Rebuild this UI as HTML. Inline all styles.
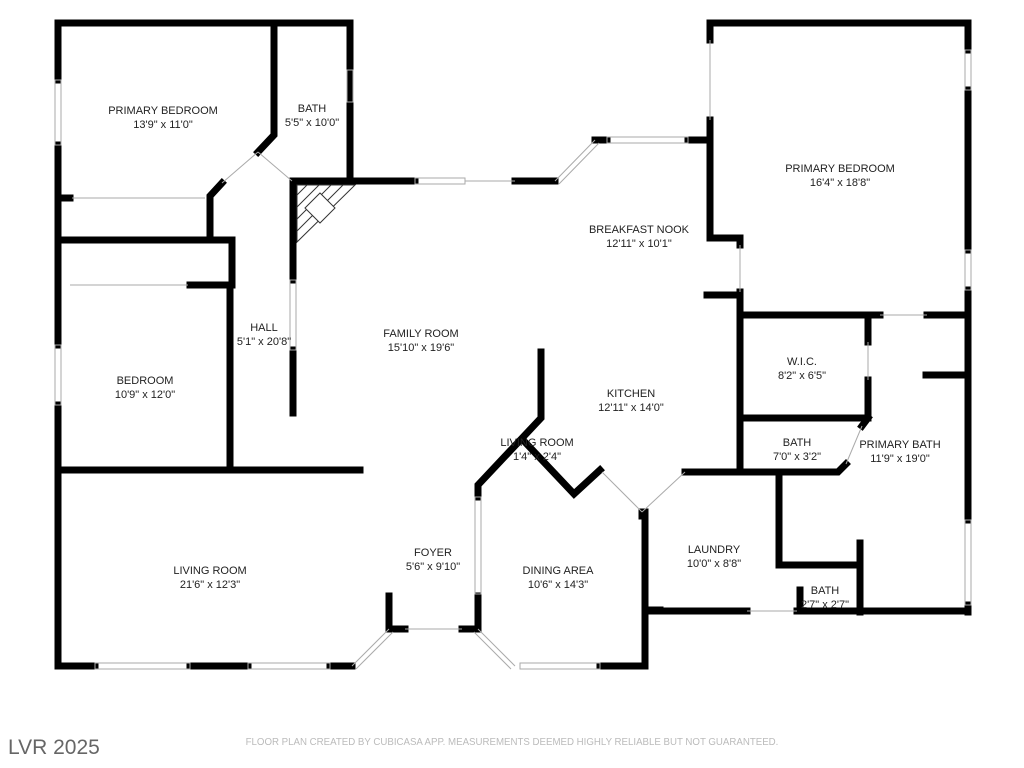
<!DOCTYPE html>
<html><head><meta charset="utf-8"><style>
body{margin:0;background:#fff;width:1024px;height:768px;overflow:hidden}
svg{display:block}
text{font-family:"Liberation Sans",sans-serif;fill:#222;font-size:11px;text-anchor:middle}
</style></head><body>
<svg width="1024" height="768" viewBox="0 0 1024 768">
<g stroke="#000" stroke-width="7" fill="none" stroke-linecap="square" stroke-linejoin="miter">
<line x1="58" y1="23" x2="350" y2="23"/><polyline points="350,23 350,181 370,181"/>
<line x1="58" y1="23" x2="58" y2="80"/><line x1="58" y1="145" x2="58" y2="345"/><line x1="58" y1="405" x2="58" y2="666"/>
<polyline points="274,23 274,135 258,152"/>
<line x1="58" y1="198" x2="70" y2="198"/>
<polyline points="222,183 210,196 210,240"/>
<polyline points="58,240 232,240 232,285 190,285"/>
<line x1="230" y1="285" x2="230" y2="470"/>
<line x1="58" y1="470" x2="360" y2="470"/>
<line x1="58" y1="666" x2="95" y2="666"/><line x1="190" y1="666" x2="248" y2="666"/><line x1="330" y1="666" x2="352" y2="666"/>
<line x1="389" y1="596" x2="389" y2="629"/><line x1="389" y1="629" x2="405" y2="629"/>
<line x1="462" y1="629" x2="478" y2="629"/><line x1="478" y1="596" x2="478" y2="629"/>
<line x1="600" y1="666" x2="645" y2="666"/><line x1="645" y1="512" x2="645" y2="666"/>
<line x1="645" y1="610" x2="660" y2="610"/>
<line x1="293" y1="181" x2="293" y2="280"/><line x1="293" y1="350" x2="293" y2="413"/>
<line x1="293" y1="181" x2="415" y2="181"/>
<line x1="515" y1="181" x2="555" y2="181"/>
<line x1="595" y1="140" x2="607" y2="140"/><line x1="688" y1="140" x2="710" y2="140"/>
<polyline points="541,352 541,418 478,485 478,497"/>
<polyline points="523,440 574,494 600,470"/>
<polyline points="710,40 710,23 968,23 968,50"/>
<line x1="968" y1="90" x2="968" y2="250"/><line x1="968" y1="290" x2="968" y2="520"/>
<line x1="968" y1="605" x2="968" y2="612"/>
<polyline points="710,120 710,238 740,238 740,245"/>
<line x1="740" y1="292" x2="740" y2="472"/>
<line x1="707" y1="295" x2="740" y2="295"/>
<line x1="740" y1="315" x2="880" y2="315"/><line x1="927" y1="315" x2="968" y2="315"/>
<line x1="868" y1="315" x2="868" y2="342"/><line x1="868" y1="380" x2="868" y2="418"/>
<line x1="740" y1="418" x2="868" y2="418"/>
<line x1="926" y1="375" x2="968" y2="375"/>
<polyline points="685,472 838,472 846,464"/>
<line x1="862" y1="426" x2="868" y2="418"/>
<polyline points="779,472 779,565 860,565"/>
<line x1="860" y1="543" x2="860" y2="612"/>
<line x1="645" y1="611" x2="747" y2="611"/><line x1="797" y1="611" x2="968" y2="611"/>
<line x1="800" y1="590" x2="800" y2="611"/>
<line x1="642" y1="512" x2="642" y2="516"/>
</g>
<g stroke="#aaa" stroke-width="1" fill="none">
<rect x="55" y="80" width="6" height="65"/><rect x="55" y="345" width="6" height="60"/>
<rect x="347" y="70" width="6" height="32"/>
<rect x="95" y="663" width="95" height="6"/><rect x="248" y="663" width="82" height="6"/>
<rect x="520" y="663" width="80" height="6"/>
<rect x="415" y="178" width="50" height="6"/>
<line x1="465" y1="181" x2="515" y2="181"/>
<rect x="607" y="137" width="81" height="6"/>
<rect x="290" y="280" width="6" height="70"/>
<rect x="965" y="50" width="6" height="40"/><rect x="965" y="250" width="6" height="40"/><rect x="965" y="520" width="6" height="85"/>
<rect x="475" y="497" width="6" height="97"/>
<polyline points="352,666 389,629"/><polyline points="356,669 393,632"/>
<polyline points="478,629 515,666"/><polyline points="474,632 511,669"/>
<polyline points="555,181 595,140"/><polyline points="559,184 599,143"/>
<polyline points="258,152 292,181"/><polyline points="222,183 258,152"/>
<line x1="72" y1="198" x2="205" y2="198"/><line x1="70" y1="285" x2="188" y2="285"/>
<line x1="602" y1="472" x2="642" y2="512"/><line x1="642" y1="512" x2="685" y2="472"/>
<line x1="405" y1="629" x2="462" y2="629"/>
<line x1="740" y1="245" x2="740" y2="292"/>
<line x1="710" y1="40" x2="710" y2="120"/>
<line x1="846" y1="464" x2="862" y2="426"/>
<line x1="868" y1="342" x2="868" y2="380"/>
<line x1="880" y1="315" x2="927" y2="315"/>
<line x1="747" y1="611" x2="797" y2="611"/>
</g>
<g stroke="#333" stroke-width="1" fill="none">
<polygon points="297,185 355,185 297,242"/>
<line x1="297" y1="195" x2="307" y2="185"/><line x1="297" y1="207" x2="319" y2="185"/>
<line x1="297" y1="219" x2="331" y2="185"/><line x1="297" y1="231" x2="343" y2="185"/>
<polygon points="305,208 320,193 335,208 320,223" fill="#fff"/>
</g>
<text x="163" y="114">PRIMARY BEDROOM</text><text x="163" y="128">13'9" x 11'0"</text>
<text x="312" y="112">BATH</text><text x="312" y="126">5'5" x 10'0"</text>
<text x="264" y="331">HALL</text><text x="264" y="345">5'1" x 20'8"</text>
<text x="145" y="384">BEDROOM</text><text x="145" y="398">10'9" x 12'0"</text>
<text x="421" y="337">FAMILY ROOM</text><text x="421" y="351">15'10" x 19'6"</text>
<text x="639" y="233">BREAKFAST NOOK</text><text x="639" y="247">12'11" x 10'1"</text>
<text x="840" y="172">PRIMARY BEDROOM</text><text x="840" y="186">16'4" x 18'8"</text>
<text x="802" y="365">W.I.C.</text><text x="802" y="379">8'2" x 6'5"</text>
<text x="631" y="397">KITCHEN</text><text x="631" y="411">12'11" x 14'0"</text>
<text x="537" y="446">LIVING ROOM</text><text x="537" y="460">1'4" x 2'4"</text>
<text x="797" y="446">BATH</text><text x="797" y="460">7'0" x 3'2"</text>
<text x="900" y="448">PRIMARY BATH</text><text x="900" y="462">11'9" x 19'0"</text>
<text x="210" y="574">LIVING ROOM</text><text x="210" y="588">21'6" x 12'3"</text>
<text x="433" y="556">FOYER</text><text x="433" y="570">5'6" x 9'10"</text>
<text x="558" y="574">DINING AREA</text><text x="558" y="588">10'6" x 14'3"</text>
<text x="714" y="553">LAUNDRY</text><text x="714" y="567">10'0" x 8'8"</text>
<text x="825" y="594">BATH</text><text x="825" y="608">2'7" x 2'7"</text>
<text x="512" y="745" style="font-size:9.7px;fill:#bbb">FLOOR PLAN CREATED BY CUBICASA APP. MEASUREMENTS DEEMED HIGHLY RELIABLE BUT NOT GUARANTEED.</text>
<text x="8" y="754" style="font-size:21px;fill:#666;text-anchor:start">LVR 2025</text>
</svg>
</body></html>
